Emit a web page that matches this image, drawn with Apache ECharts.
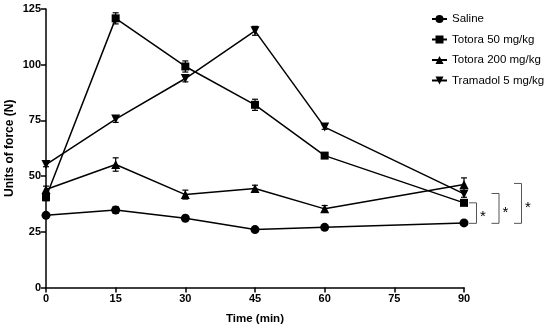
<!DOCTYPE html>
<html>
<head>
<meta charset="utf-8">
<script src="https://cdn.jsdelivr.net/npm/echarts@6/dist/echarts.min.js"></script>
<style>html,body{margin:0;padding:0;background:#fff}#c{width:550px;height:330px}</style>
</head>
<body>
<div id="c"></div>
<script>
const times = [0, 15, 30, 45, 60, 90];
const seriesNames = ['Saline', 'Totora 50 mg/kg', 'Totora 200 mg/kg', 'Tramadol 5 mg/kg'];
const saline = [32.4, 34.8, 31.1, 26.0, 27.0, 29.0];
const totora50 = [40.5, 120.8, 99.2, 82.0, 59.2, 38.0];
const totora200 = [44.0, 55.2, 41.7, 44.4, 35.3, 46.2];
const tramadol = [55.2, 75.6, 93.8, 115.2, 72.0, 42.0];
const salineErr = [1.0, 1.5, 1.0, 0.8, 0.8, 1.0];
const totora50Err = [1.5, 2.5, 2.5, 2.5, 1.0, 1.0];
const totora200Err = [1.5, 3.0, 2.0, 1.5, 1.5, 3.0];
const tramadolErr = [1.0, 1.5, 1.5, 2.0, 1.0, 1.5];
const yTicks = [0, 25, 50, 75, 100, 125];
const xTicks = [0, 15, 30, 45, 60, 75, 90];
// significance brackets at t=90: [upper value, lower value]
const sigBrackets = [[38.0, 28.8], [42.2, 28.8], [46.7, 28.8]];
const sigLabel = '*';

const values = [saline, totora50, totora200, tramadol];
const errs = [salineErr, totora50Err, totora200Err, tramadolErr];
const symbols = ['circle', 'rect', 'triangle', 'triangle'];
const rotates = [0, 0, 0, 180];
const sizes = [9, 8, 9, 9];

const series = [];
values.forEach((vals, i) => {
  series.push({
    name: seriesNames[i], type: 'line',
    data: times.map((t, j) => [t, vals[j]]),
    symbol: symbols[i], symbolSize: sizes[i], symbolRotate: rotates[i],
    showAllSymbol: true,
    lineStyle: {color: '#000', width: 1.5},
    itemStyle: {color: '#000'},
    z: 3
  });
  series.push({
    type: 'custom', silent: true, z: 2,
    data: times.map((t, j) => [t, vals[j] - errs[i][j], vals[j] + errs[i][j]]),
    renderItem: function (params, api) {
      const lo = api.coord([api.value(0), api.value(1)]);
      const hi = api.coord([api.value(0), api.value(2)]);
      const w = 3;
      return {type: 'group', children: [
        {type: 'line', shape: {x1: lo[0], y1: lo[1], x2: hi[0], y2: hi[1]}, style: {stroke: '#000', lineWidth: 1.2}},
        {type: 'line', shape: {x1: lo[0]-w, y1: lo[1], x2: lo[0]+w, y2: lo[1]}, style: {stroke: '#000', lineWidth: 1.2}},
        {type: 'line', shape: {x1: hi[0]-w, y1: hi[1], x2: hi[0]+w, y2: hi[1]}, style: {stroke: '#000', lineWidth: 1.2}}
      ]};
    }
  });
});

series.push({
  type: 'custom', silent: true, clip: false, z: 4,
  data: sigBrackets.map((b, k) => [90, b[0], b[1], k]),
  renderItem: function (params, api) {
    const k = api.value(3);
    const top = api.coord([api.value(0), api.value(1)]);
    const bot = api.coord([api.value(0), api.value(2)]);
    const xl = top[0] + 5 + k * 22.5;
    const xr = xl + 7.5;
    const c = '#555';
    return {type: 'group', children: [
      {type: 'polyline', shape: {points: [[xl, top[1]], [xr, top[1]], [xr, bot[1]], [xl, bot[1]]]}, style: {stroke: c, lineWidth: 1, fill: null}},
      {type: 'text', style: {text: sigLabel, x: xr + 6.5, y: (top[1] + bot[1]) / 2 + 4, align: 'center', verticalAlign: 'middle', fill: '#000', font: '15px "Liberation Sans", Arial'}}
    ]};
  }
});

const chart = echarts.init(document.getElementById('c'), null, {renderer: 'canvas'});
chart.setOption({
  animation: false,
  backgroundColor: '#fff',
  grid: {left: 46, right: 86, top: 9, bottom: 42.5, containLabel: false, outerBoundsMode: 'none'},
  legend: {
    data: seriesNames,
    orient: 'vertical', left: 426, top: 8,
    itemWidth: 15, itemHeight: 10, itemGap: 8.5,
    textStyle: {fontFamily: '"Liberation Sans", Arial', fontSize: 11.5, color: '#000'},
    selectedMode: false
  },
  xAxis: {
    type: 'value', min: 0, max: 90, interval: 15,
    name: 'Time (min)', nameLocation: 'middle', nameGap: 25, nameMoveOverlap: false,
    nameTextStyle: {fontFamily: '"Liberation Sans", Arial', fontWeight: 'bold', fontSize: 11.5, color: '#000'},
    axisLine: {lineStyle: {color: '#000', width: 1.5}},
    axisTick: {show: true, length: 5, lineStyle: {color: '#000', width: 1.5}},
    axisLabel: {fontFamily: '"Liberation Sans", Arial', fontWeight: 'bold', fontSize: 11, color: '#000', margin: 6},
    splitLine: {show: false}
  },
  yAxis: {
    type: 'value', min: 0, max: 125, interval: 25,
    name: 'Units of force (N)', nameLocation: 'middle', nameGap: 30, nameRotate: 90, nameMoveOverlap: false,
    nameTextStyle: {fontFamily: '"Liberation Sans", Arial', fontWeight: 'bold', fontSize: 12, color: '#000'},
    axisLine: {show: true, lineStyle: {color: '#000', width: 1.5}},
    axisTick: {show: true, length: 5, lineStyle: {color: '#000', width: 1.5}},
    axisLabel: {fontFamily: '"Liberation Sans", Arial', fontWeight: 'bold', fontSize: 11, color: '#000', margin: 5},
    splitLine: {show: false}
  },
  series: series
});
</script>
</body>
</html>
